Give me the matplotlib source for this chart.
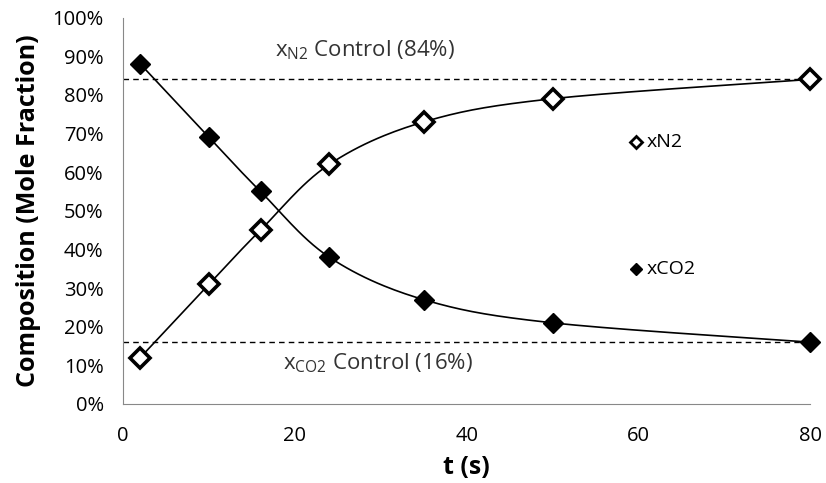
import numpy as np
import matplotlib
matplotlib.use('Agg')
from matplotlib import pyplot

# Data
t = [2, 10, 16, 24, 35, 50, 80]
x_n2 = [0.12, 0.31, 0.45, 0.62, 0.73, 0.79, 0.84]
x_co2 = [0.88, 0.69, 0.55, 0.38, 0.27, 0.21, 0.16]
n2_control = 0.84
co2_control = 0.16
xticks = [0, 20, 40, 60, 80]
yticks = [0.0, 0.1, 0.2, 0.3, 0.4, 0.5, 0.6, 0.7, 0.8, 0.9, 1.0]


def smooth(x, y, n=30):
    """Excel-like smoothed line (Catmull-Rom Bezier) through the points."""
    x = np.asarray(x, float)
    y = np.asarray(y, float)
    px = np.concatenate([[x[0]], x, [x[-1]]])
    py = np.concatenate([[y[0]], y, [y[-1]]])
    xs, ys = [], []
    s = np.linspace(0, 1, n)
    for i in range(1, len(px) - 2):
        p0 = np.array([px[i], py[i]])
        p3 = np.array([px[i + 1], py[i + 1]])
        c1 = p0 + (p3 - np.array([px[i - 1], py[i - 1]])) / 6
        c2 = p3 - (np.array([px[i + 2], py[i + 2]]) - p0) / 6
        b = ((1 - s)**3)[:, None] * p0 + (3 * (1 - s)**2 * s)[:, None] * c1 \
            + (3 * (1 - s) * s**2)[:, None] * c2 + (s**3)[:, None] * p3
        xs.extend(b[:, 0])
        ys.extend(b[:, 1])
    return xs, ys


pyplot.rc('font', family=['Open Sans', 'DejaVu Sans'], size=14.5)
fig = pyplot.figure(figsize=(8.26, 4.83), dpi=100)
ax = fig.add_axes([0.149, 0.1636, 0.832, 0.80])

ax.axhline(n2_control, color='black', linestyle=(0, (4, 3)), linewidth=1)
ax.axhline(co2_control, color='black', linestyle=(0, (4, 3)), linewidth=1)

sx, sy = smooth(t, x_n2)
ax.plot(sx, sy, color='black', linewidth=1.2)
sx, sy = smooth(t, x_co2)
ax.plot(sx, sy, color='black', linewidth=1.2)

ax.plot(t, x_n2, linestyle='none', marker='D', markersize=10,
        markerfacecolor='white', markeredgecolor='black', markeredgewidth=2.6)
ax.plot(t, x_co2, linestyle='none', marker='D', markersize=10,
        markerfacecolor='black', markeredgecolor='black')

# in-plot legend
ax.plot([59.7], [0.679], linestyle='none', marker='D', markersize=6,
        markerfacecolor='white', markeredgecolor='black', markeredgewidth=2)
ax.text(60.9, 0.679, 'xN2', va='center', ha='left', fontsize=14)
ax.plot([59.7], [0.35], linestyle='none', marker='D', markersize=6,
        color='black')
ax.text(60.9, 0.35, 'xCO2', va='center', ha='left', fontsize=14)

ax.text(17.7, 0.915, r'x$_{\mathregular{N2}}$ Control (84%)', va='center',
        ha='left', fontsize=16, color='#333333')
ax.text(18.6, 0.105, r'x$_{\mathregular{CO2}}$ Control (16%)', va='center',
        ha='left', fontsize=16, color='#333333')

ax.set_xlim(0, 80)
ax.set_ylim(0, 1)
ax.set_xticks(xticks)
ax.set_yticks(yticks)
ax.set_yticklabels(['{:.0f}%'.format(v * 100) for v in yticks])
ax.tick_params(axis='y', length=0, pad=14)
ax.tick_params(axis='x', length=0, pad=16)
ax.set_xlabel('t (s)', fontweight='bold', fontsize=18, labelpad=6)
ax.set_ylabel('Composition (Mole Fraction)', fontweight='bold', fontsize=18,
              labelpad=8)
for side in ['top', 'right']:
    ax.spines[side].set_visible(False)
for side in ['left', 'bottom']:
    ax.spines[side].set_color('#888888')
for line in ax.lines:
    line.set_clip_on(False)

fig.savefig('out.png', dpi=100)
